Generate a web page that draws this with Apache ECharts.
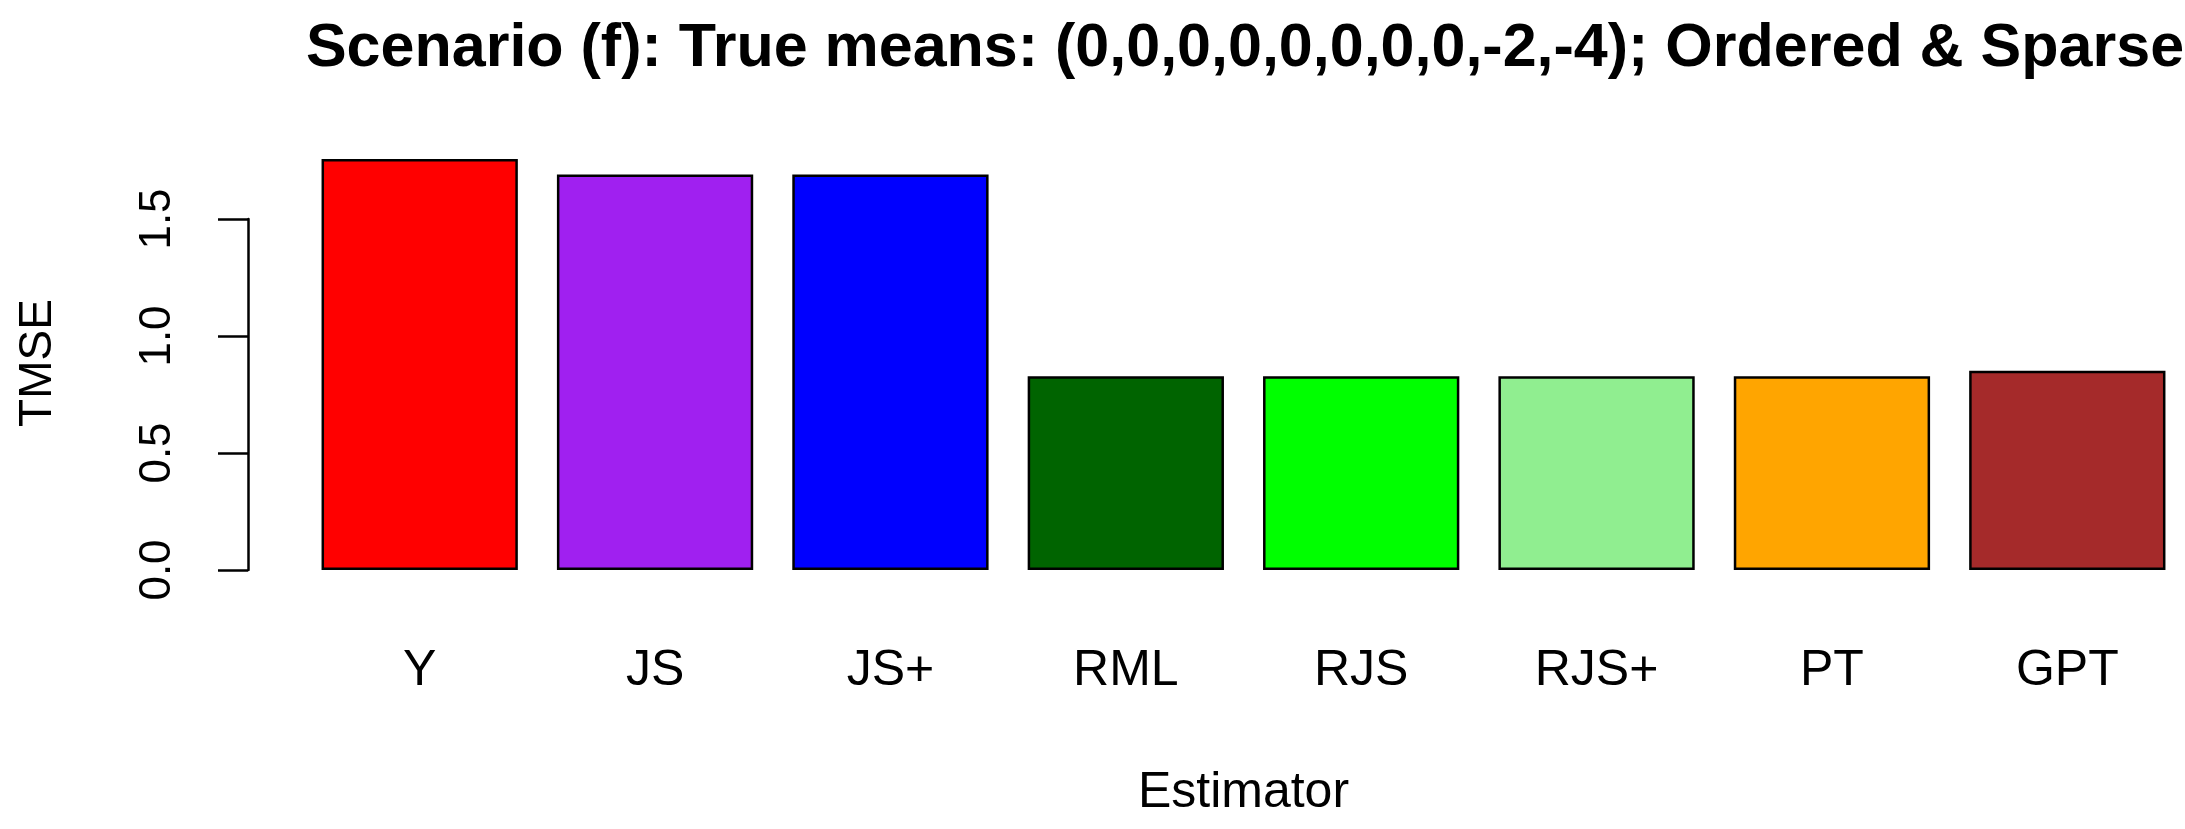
<!DOCTYPE html>
<html>
<head>
<meta charset="utf-8">
<script src="https://cdn.jsdelivr.net/npm/echarts@6/dist/echarts.min.js"></script>
<style>html,body{margin:0;padding:0;background:#fff;}#c{width:2185px;height:829px;}</style>
</head>
<body>
<div id="c"></div>
<script>
const categories = ["Y", "JS", "JS+", "RML", "RJS", "RJS+", "PT", "GPT"];
const tmse = [1.756, 1.690, 1.690, 0.828, 0.828, 0.828, 0.828, 0.852];
const barColors = ["#FF0000", "#A020F0", "#0000FF", "#006400", "#00FF00", "#90EE90", "#FFA500", "#A52A2A"];
const yTicks = [0, 0.5, 1.0, 1.5];

const FONT = "'Liberation Sans', Arial, sans-serif";
const chart = echarts.init(document.getElementById('c'));
chart.setOption({
  backgroundColor: '#ffffff',
  animation: false,
  title: {
    text: 'Scenario (f): True means: (0,0,0,0,0,0,0,0,-2,-4); Ordered & Sparse',
    left: 1240, top: 14, textAlign: 'center',
    textStyle: { fontFamily: FONT, fontWeight: 'bold', fontSize: 61, color: '#000' }
  },
  grid: { left: 302, top: 219, width: 1884, bottom: 259, containLabel: false },
  xAxis: {
    type: 'category', data: categories,
    axisLine: { show: false }, axisTick: { show: false },
    axisLabel: { margin: 76, fontFamily: FONT, fontSize: 50, color: '#000' },
    name: 'Estimator', nameLocation: 'middle', nameGap: 198,
    nameTextStyle: { fontFamily: FONT, fontSize: 50, color: '#000' }
  },
  yAxis: {
    type: 'value', min: yTicks[0], max: yTicks[yTicks.length - 1], interval: 0.5,
    offset: 54,
    splitLine: { show: false },
    axisLine: { show: true, lineStyle: { color: '#000', width: 2.5 } },
    axisTick: { show: true, length: 30, lineStyle: { color: '#000', width: 2.5 } },
    axisLabel: { rotate: 90, margin: 68, fontFamily: FONT, fontSize: 44, color: '#000',
      formatter: v => v.toFixed(1) }
  },
  graphic: [{
    type: 'text', x: 38, y: 363, rotation: Math.PI / 2,
    style: { text: 'TMSE', fontFamily: FONT, fontSize: 46, fill: '#000', align: 'center', verticalAlign: 'middle' }
  }],
  series: [{
    type: 'bar', clip: false, barWidth: '83.4%',
    data: tmse.map((v, i) => ({ value: v, itemStyle: { color: barColors[i] } })),
    itemStyle: { borderColor: '#000', borderWidth: 2.5 }
  }]
});
</script>
</body>
</html>
